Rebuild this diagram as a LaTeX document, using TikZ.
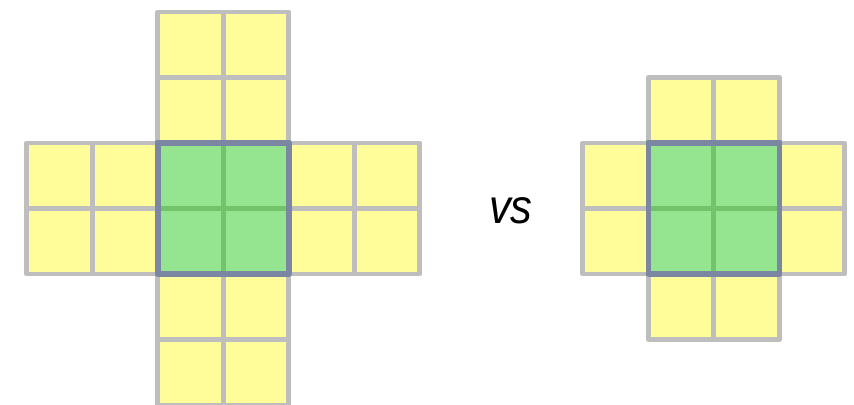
\documentclass[tikz,border=0pt]{standalone}
\usepackage{fontspec}
\setsansfont{Liberation Sans}
\usepackage{tikz}
\usetikzlibrary{positioning}
\definecolor{cellyellow}{RGB}{255,253,153}
\definecolor{cellgreen}{RGB}{149,229,144}
\definecolor{gridgray}{RGB}{190,190,190}
\definecolor{innergreen}{RGB}{114,195,106}
\definecolor{coreblue}{RGB}{122,134,162}

\begin{document}
\begin{tikzpicture}[
  ycell/.style={draw=gridgray, fill=cellyellow, line width=2.1pt, line join=round},
  gcell/.style={draw=innergreen, fill=cellgreen, line width=2.2pt},
  coreline/.style={draw=coreblue, line width=2.4pt, line join=round},
  vslabel/.style={font=\sffamily\itshape\fontsize{21}{24}\selectfont, xscale=0.9},
]
\useasboundingbox (0,0) rectangle (13.04,6.183);

%% Left: large cross, arms two cells long
\foreach \bx/\by in {2.41/4, 2.41/0, 0.41/2, 4.41/2}
  \foreach \i in {0,1}
    \foreach \j in {0,1}
      \draw[ycell] (\bx+\i,\by+\j) rectangle ++(1,1);

%% Left: core block
\foreach \i in {0,1}
  \foreach \j in {0,1}
    \draw[gcell] (2.41+\i,2+\j) rectangle ++(1,1);
\draw[coreline] (2.41,2) rectangle ++(2,2);

%% Middle label
\node[vslabel] (vs) at (7.8,2.97) {vs};

%% Right: small cross, arms one cell long
\foreach \i in {0,1} {
  \draw[ycell] (9.9+\i,4) rectangle ++(1,1);
  \draw[ycell] (9.9+\i,1) rectangle ++(1,1);
  \draw[ycell] (8.9,2+\i) rectangle ++(1,1);
  \draw[ycell] (11.9,2+\i) rectangle ++(1,1);
}

%% Right: core block
\foreach \i in {0,1}
  \foreach \j in {0,1}
    \draw[gcell] (9.9+\i,2+\j) rectangle ++(1,1);
\draw[coreline] (9.9,2) rectangle ++(2,2);

\end{tikzpicture}
\end{document}
